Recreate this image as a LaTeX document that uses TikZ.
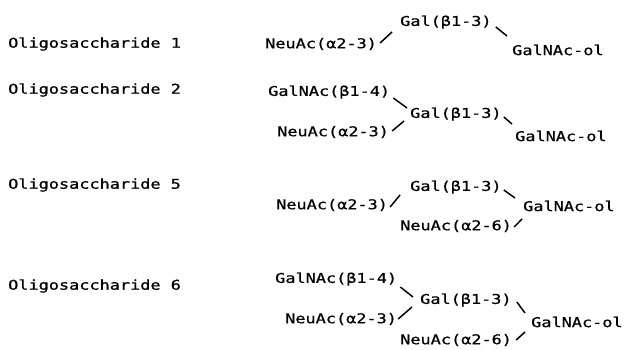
\documentclass[tikz,border=0pt]{standalone}
\usepackage{fontspec}
\usetikzlibrary{calc}
\newfontfamily\mono[FakeStretch=1.25,FakeBold=0.8]{DejaVu Sans Mono}
\begin{document}
\begin{tikzpicture}[x=1pt,y=-1pt,
  sug/.style={font=\mono\fontsize{13.5}{16}\selectfont, inner sep=0pt, anchor=west},
  lbl/.style={font=\mono\fontsize{13.5}{16}\selectfont, inner sep=0pt, anchor=west},
  bond/.style={line width=1.5pt}]
\useasboundingbox (0,0) rectangle (626,350);
% Oligosaccharide 1
\node[lbl] (l1) at (8,44) {Oligosaccharide 1};
\node[sug] (a1) at (265,44) {NeuAc(α2-3)};
\node[sug] (a2) at (400,22) {Gal(β1-3)};
\node[sug] (a3) at (512,50) {GalNAc-ol};
\draw[bond] ($(a1.east)+(3,-1)$) -- ($(a2.west)+(-8,10)$);
\draw[bond] ($(a2.east)+(4,5)$) -- ($(a3.west)+(-5,-14)$);
% Oligosaccharide 2
\node[lbl] (l2) at (8,90) {Oligosaccharide 2};
\node[sug] (b1) at (268,92) {GalNAc(β1-4)};
\node[sug] (b2) at (410,114) {Gal(β1-3)};
\node[sug] (b3) at (277,132) {NeuAc(α2-3)};
\node[sug] (b4) at (515,136) {GalNAc-ol};
\draw[bond] ($(b1.east)+(3,6)$) -- ($(b2.west)+(-3,-6)$);
\draw[bond] ($(b3.east)+(3,-1)$) -- ($(b2.west)+(-6,7)$);
\draw[bond] ($(b2.east)+(2,3)$) -- ($(b4.west)+(-3,-12)$);
% Oligosaccharide 5
\node[lbl] (l5) at (8,185) {Oligosaccharide 5};
\node[sug] (c1) at (410,187) {Gal(β1-3)};
\node[sug] (c2) at (276,205) {NeuAc(α2-3)};
\node[sug] (c3) at (523,206) {GalNAc-ol};
\node[sug] (c4) at (400,226) {NeuAc(α2-6)};
\draw[bond] ($(c2.east)+(2,2)$) -- ($(c1.west)+(-10,8)$);
\draw[bond] ($(c1.east)+(2,3)$) -- ($(c3.west)+(-8,-8)$);
\draw[bond] ($(c4.east)+(2,1)$) -- ($(c3.west)+(-1,13)$);
% Oligosaccharide 6
\node[lbl] (l6) at (8,286) {Oligosaccharide 6};
\node[sug] (d1) at (275,279) {GalNAc(β1-4)};
\node[sug] (d2) at (420,300) {Gal(β1-3)};
\node[sug] (d3) at (285,319) {NeuAc(α2-3)};
\node[sug] (d4) at (531,322) {GalNAc-ol};
\node[sug] (d5) at (400,340) {NeuAc(α2-6)};
\draw[bond] ($(d1.east)+(3,8)$) -- ($(d2.west)+(-7,-3)$);
\draw[bond] ($(d3.east)+(1,0)$) -- ($(d2.west)+(-8,7)$);
\draw[bond] ($(d2.east)+(5,2)$) -- ($(d4.west)+(-6,-9)$);
\draw[bond] ($(d5.east)+(4,0)$) -- ($(d4.west)+(-6,10)$);
\end{tikzpicture}
\end{document}
